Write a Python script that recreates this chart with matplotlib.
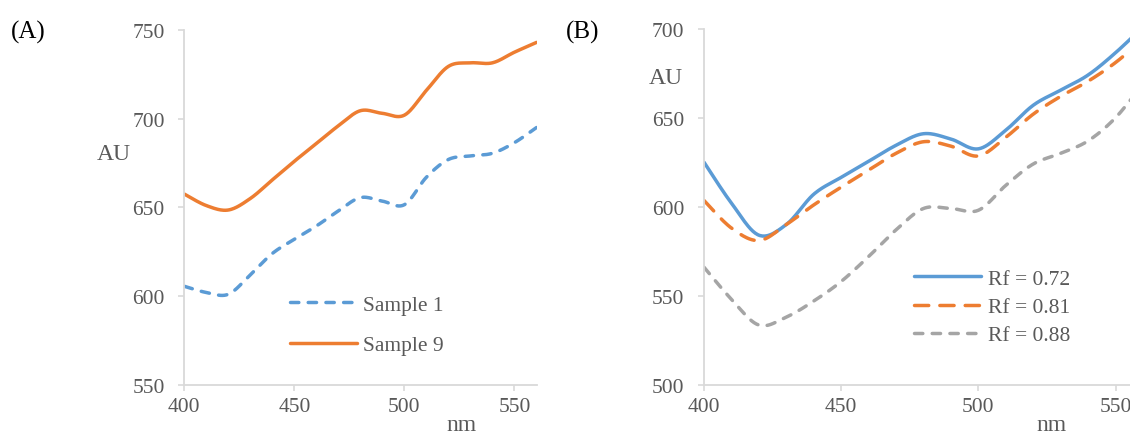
import matplotlib
matplotlib.use("Agg")
import matplotlib.pyplot as plt
import numpy as np


WAVELENGTH = [400, 410, 420, 430, 440, 450, 460, 470, 480,
              490, 500, 510, 520, 530, 540, 550, 560]

# panel A
SAMPLE_1 = [605.5, 602, 601, 612, 624, 632, 639.5, 648, 655.5,
            653.5, 651.5, 667, 677, 679, 680.5, 686.5, 695]
SAMPLE_9 = [657.5, 651, 648.5, 655, 665.5, 676, 686, 696, 704.5,
            703, 702, 716, 729.5, 731.5, 731.5, 737.5, 743]

# panel B
RF_072 = [625, 602, 584, 590, 607, 616.5, 625.5, 634.5, 641,
          638, 632.5, 643, 657, 665.5, 674, 686.5, 701]
RF_081 = [603.5, 588, 581, 590, 601, 611, 620.5, 630, 636.5,
          634, 628.5, 639, 652, 662, 670.5, 681, 694]
RF_088 = [566, 548, 533.5, 538, 547, 558, 572, 587, 599,
          599, 598, 612, 624, 630, 637, 650, 669]

LABELS_A = ["Sample 1", "Sample 9"]
LABELS_B = ["Rf = 0.72", "Rf = 0.81", "Rf = 0.88"]

BLUE = "#5B9BD5"
ORANGE = "#ED7D31"
GRAY = "#A5A5A5"
AXIS_GRAY = "#D9D9D9"
TEXT_GRAY = "#595959"

plt.rcParams["font.family"] = ["Liberation Serif", "DejaVu Serif"]


def smooth(x, y, n=24):
    # excel style smoothed line (catmull-rom as bezier)
    x = np.asarray(x, float)
    y = np.asarray(y, float)
    px = np.concatenate([[x[0]], x, [x[-1]]])
    py = np.concatenate([[y[0]], y, [y[-1]]])
    t = np.linspace(0, 1, n)[:, None]
    xs, ys = [], []
    for i in range(1, len(px) - 2):
        p0 = np.array([px[i], py[i]])
        p3 = np.array([px[i + 1], py[i + 1]])
        c1 = p0 + (p3 - np.array([px[i - 1], py[i - 1]])) / 6
        c2 = p3 - (np.array([px[i + 2], py[i + 2]]) - p0) / 6
        b = ((1 - t) ** 3) * p0 + 3 * ((1 - t) ** 2) * t * c1 \
            + 3 * (1 - t) * t ** 2 * c2 + t ** 3 * p3
        if i > 1:
            b = b[1:]
        xs.append(b[:, 0])
        ys.append(b[:, 1])
    return np.concatenate(xs), np.concatenate(ys)


def style_axes(ax, ylim):
    ax.set_xlim(400, 560)
    ax.set_ylim(*ylim)
    ax.set_xticks([400, 450, 500, 550])
    ax.set_yticks(np.arange(ylim[0], ylim[1] + 1, 50))
    for side in ["top", "right"]:
        ax.spines[side].set_visible(False)
    for side in ["left", "bottom"]:
        ax.spines[side].set_color(AXIS_GRAY)
        ax.spines[side].set_linewidth(1.3)
    ax.tick_params(axis="both", colors=AXIS_GRAY, length=4, width=1.2,
                   labelcolor=TEXT_GRAY, labelsize=15.5)
    ax.tick_params(axis="y", pad=10)
    ax.tick_params(axis="x", pad=5)


def draw_line(ax, y, color, dashes=None, label=None):
    sx, sy = smooth(WAVELENGTH, y)
    line, = ax.plot(sx, sy, color=color, lw=2.5, label=label,
                    solid_capstyle="round", dash_capstyle="round")
    if dashes is not None:
        line.set_dashes(dashes)
    return line


def main():
    fig = plt.figure(figsize=(11.3, 4.35), dpi=100)

    ax_a = fig.add_axes([184.3 / 1130, 49.3 / 435, 352.2 / 1130, 354.7 / 435])
    draw_line(ax_a, SAMPLE_1, BLUE, dashes=(2.4, 2.7), label=LABELS_A[0])
    draw_line(ax_a, SAMPLE_9, ORANGE, label=LABELS_A[1])
    style_axes(ax_a, (550, 750))
    ax_a.legend(loc="center left", bbox_to_anchor=(290 / 1130, 1 - 326 / 435),
                bbox_transform=fig.transFigure, frameon=False, fontsize=15.5,
                handlelength=3.1, handletextpad=0.3, borderpad=0,
                borderaxespad=0, labelspacing=0.95, labelcolor=TEXT_GRAY)

    ax_b = fig.add_axes([704 / 1130, 49.3 / 435, 439 / 1130, 356 / 435])
    draw_line(ax_b, RF_072, BLUE, label=LABELS_B[0])
    draw_line(ax_b, RF_081, ORANGE, dashes=(4.1, 3.2), label=LABELS_B[1])
    draw_line(ax_b, RF_088, GRAY, dashes=(2.4, 2.7), label=LABELS_B[2])
    style_axes(ax_b, (500, 700))
    ax_b.legend(loc="center left", bbox_to_anchor=(914 / 1130, 1 - 308 / 435),
                bbox_transform=fig.transFigure, frameon=False, fontsize=15.5,
                handlelength=3.1, handletextpad=0.35, borderpad=0,
                borderaxespad=0, labelspacing=0.38, labelcolor=TEXT_GRAY)

    fig.text(28 / 1130, 1 - 32 / 435, "(A)", fontsize=18, ha="center", va="center")
    fig.text(583 / 1130, 1 - 32 / 435, "(B)", fontsize=18, ha="center", va="center")
    fig.text(114 / 1130, 1 - 155 / 435, "AU", fontsize=17, color=TEXT_GRAY,
             ha="center", va="center")
    fig.text(666 / 1130, 1 - 78 / 435, "AU", fontsize=17, color=TEXT_GRAY,
             ha="center", va="center")
    fig.text(461 / 1130, 1 - 426 / 435, "nm", fontsize=17, color=TEXT_GRAY,
             ha="center", va="center")
    fig.text(1051 / 1130, 1 - 426 / 435, "nm", fontsize=17, color=TEXT_GRAY,
             ha="center", va="center")

    fig.savefig("out.png", dpi=100)
    plt.close(fig)


if __name__ == "__main__":
    main()
